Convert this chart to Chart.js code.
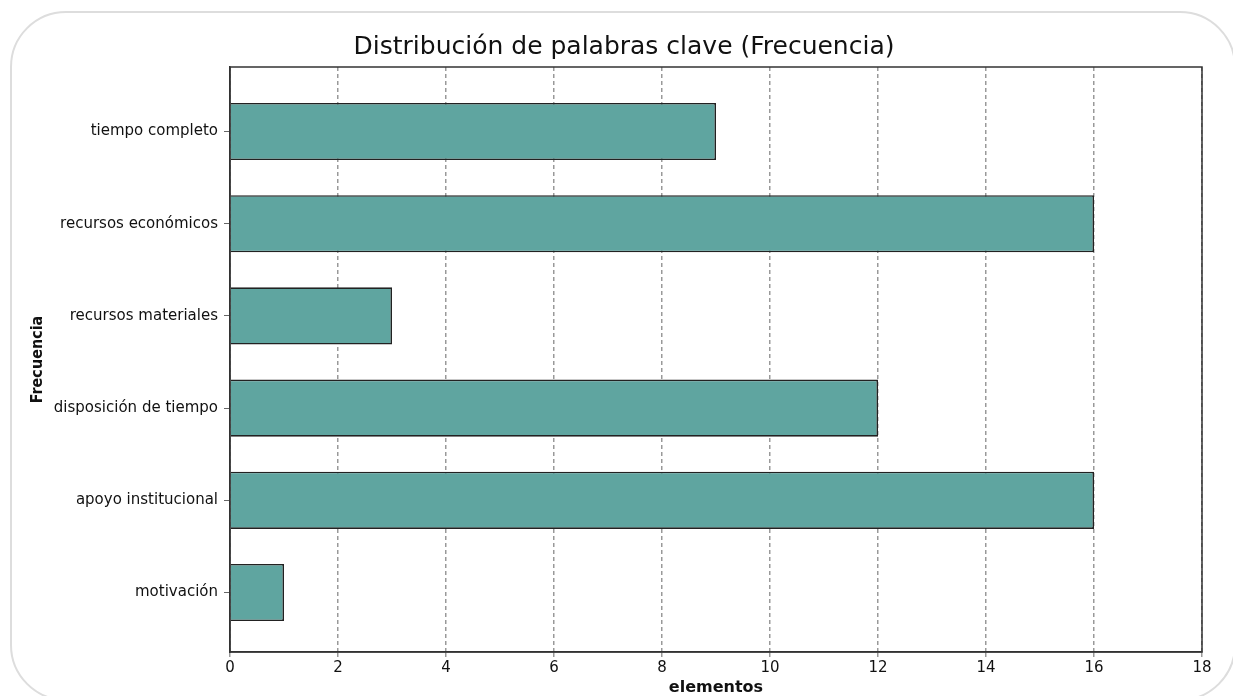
<!DOCTYPE html>
<html>
<head>
<meta charset="utf-8">
<script src="https://cdn.jsdelivr.net/npm/chart.js@4"></script>
<style>
  body { margin: 0; background: #fff; overflow: hidden; }
  #wrap { position: relative; width: 1233px; height: 696px; }
  #frame { position: absolute; left: 10px; top: 11px; width: 1226px; height: 690px;
           border: 2px solid #ddd; border-radius: 56px; box-sizing: border-box; }
  #chart { position: absolute; left: 0; top: 0; }
</style>
</head>
<body>
<div id="wrap">
  <div id="frame"></div>
  <canvas id="chart" width="1233" height="696"></canvas>
</div>
<script>
var categories = ['tiempo completo', 'recursos económicos', 'recursos materiales',
                  'disposición de tiempo', 'apoyo institucional', 'motivación'];
var values = [9, 16, 3, 12, 16, 1];
var xTicks = [0, 2, 4, 6, 8, 10, 12, 14, 16, 18];

// frame round the plot area
var plotBorder = {
    id: 'plotBorder',
    afterDraw: function (chart) {
        var a = chart.chartArea, c = chart.ctx;
        c.save();
        c.strokeStyle = '#333';
        c.lineWidth = 1.5;
        c.strokeRect(a.left, a.top, a.right - a.left, a.bottom - a.top);
        c.restore();
    }
};

var ctx = document.getElementById('chart').getContext('2d');
var myChart = new Chart(ctx, {
    type: 'bar',
    data: {
        datasets: [{
            label: 'Frecuencia',
            data: values.map(function (v, i) { return {x: v, y: i}; }),
            backgroundColor: '#5FA5A0',
            borderColor: '#222',
            borderWidth: 1.6,
            barPercentage: 0.62,
            categoryPercentage: 1
        }]
    },
    options: {
        indexAxis: 'y',
        responsive: false,
        animation: false,
        layout: { padding: { left: 46, right: 31, top: 0, bottom: 0 } },
        plugins: {
            legend: { display: false },
            tooltip: { enabled: false },
            title: {
                display: true,
                text: 'Distribución de palabras clave (Frecuencia)',
                color: '#111',
                font: { family: 'DejaVu Sans', size: 25, weight: 'normal' },
                padding: { top: 32, bottom: 5 }
            }
        },
        scales: {
            x: {
                type: 'linear',
                min: 0,
                max: 18,
                afterBuildTicks: function (s) { s.ticks = xTicks.map(function (v) { return {value: v}; }); },
                afterFit: function (s) { s.height = 44; },
                ticks: { color: '#111', font: { family: 'DejaVu Sans', size: 15 }, padding: 2 },
                grid: {
                    color: '#999',
                    lineWidth: 1.5,
                    tickLength: 5,
                    tickColor: '#999'
                },
                border: { display: true, color: '#333', width: 1.5, dash: [4, 3] },
                title: {
                    display: true,
                    text: 'elementos',
                    color: '#111',
                    font: { family: 'DejaVu Sans', size: 16, weight: 'bold' },
                    padding: { top: 0, bottom: -1 }
                }
            },
            y: {
                type: 'linear',
                reverse: true,
                offset: false,
                min: -0.7,
                max: 5.645,
                afterBuildTicks: function (s) { s.ticks = categories.map(function (c, i) { return {value: i}; }); },
                afterFit: function (s) { s.width = 184; },
                ticks: {
                    color: '#111',
                    font: { family: 'DejaVu Sans', size: 15 },
                    padding: 6,
                    callback: function (v) { return categories[v]; }
                },
                grid: { offset: false, drawOnChartArea: false, tickLength: 6, color: '#666' },
                border: { display: true, color: '#333', width: 1.5 },
                title: {
                    display: true,
                    text: 'Frecuencia',
                    color: '#111',
                    font: { family: 'DejaVu Sans Condensed', size: 16, weight: 'bold' },
                    padding: { top: -18, bottom: 0 }
                }
            }
        }
    },
    plugins: [plotBorder]
});
</script>
</body>
</html>
